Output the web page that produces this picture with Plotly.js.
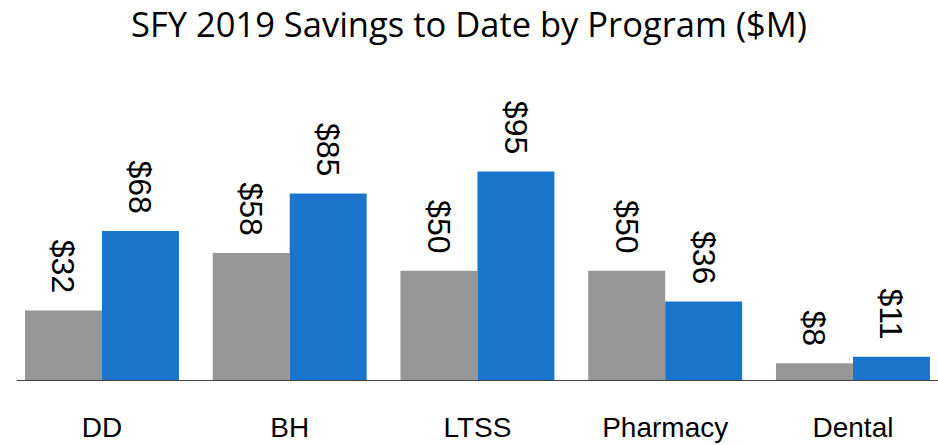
<!DOCTYPE html>
<html>
<head>
<meta charset="utf-8">
<script src="https://cdn.plot.ly/plotly-3.0.1.min.js"></script>
<style>html,body{margin:0;padding:0;background:#fff;}#chart{width:938px;height:445px;}</style>
</head>
<body>
<div id="chart"></div>
<script>
const categories = ["DD", "BH", "LTSS", "Pharmacy", "Dental"];
const seriesGray = [32, 58, 50, 50, 8];
const seriesBlue = [68, 85, 95, 36, 11];

const labelFont = {family: "Liberation Sans, Arial, sans-serif", size: 32, color: "#000"};
const pad = "\u00a0\u2006";

function mk(vals, color) {
  return {
    type: "bar",
    x: categories,
    y: vals,
    marker: {color: color},
    text: vals.map(v => "$" + v + pad),
    textposition: "outside",
    textangle: 90,
    textfont: labelFont,
    constraintext: "none",
    cliponaxis: false,
    hoverinfo: "none",
    showlegend: false
  };
}

const data = [mk(seriesGray, "#969696"), mk(seriesBlue, "#1c75cc")];

const layout = {
  width: 938, height: 445,
  margin: {l: 0, r: 0, t: 70, b: 64},
  paper_bgcolor: "#fff", plot_bgcolor: "#fff",
  barmode: "group", bargap: 0.18, bargroupgap: 0,
  title: {text: "SFY 2019 Savings to Date by Program ($M)", x: 0.5, xanchor: "center", y: 0.944, yanchor: "middle",
          font: {family: "Open Sans, sans-serif", size: 34.5, color: "#000"}},
  xaxis: {range: [-0.543, 4.453], showline: false, showgrid: false, zeroline: false, ticks: "",
          tickfont: {family: "Liberation Sans, Arial, sans-serif", size: 28, color: "#000"},
          ticklabelstandoff: 27, fixedrange: true},
  yaxis: {range: [0, 141], visible: false, showgrid: false, zeroline: false, fixedrange: true},
  shapes: [{type: "line", xref: "x", yref: "y", x0: -0.453, x1: 4.453, y0: 0, y1: 0,
            line: {color: "#404040", width: 2}}]
};

Plotly.newPlot("chart", data, layout, {displayModeBar: false, staticPlot: true});
</script>
</body>
</html>
